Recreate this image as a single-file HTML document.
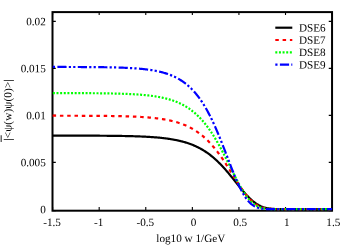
<!DOCTYPE html><html><head><meta charset="utf-8"><title>plot</title><style>html,body{margin:0;padding:0;background:#fff}svg{display:block}text{text-rendering:geometricPrecision;font-family:"Liberation Serif",serif;font-size:11.2px;fill:#000}</style></head><body>
<svg width="350" height="245" viewBox="0 0 350 245">
<rect width="350" height="245" fill="#fff"/>
<path d="M52.60,210.70v-3.6M52.60,12.10v3M99.18,210.70v-3.6M99.18,12.10v3M145.77,210.70v-3.6M145.77,12.10v3M192.35,210.70v-3.6M192.35,12.10v3M238.93,210.70v-3.6M238.93,12.10v3M285.52,210.70v-3.6M285.52,12.10v3M332.10,210.70v-3.6M332.10,12.10v3M52.50,210.70h3.3M332.05,210.70h-3.3M52.50,162.42h3.3M332.05,162.42h-3.3M52.50,115.39h3.3M332.05,115.39h-3.3M52.50,68.36h3.3M332.05,68.36h-3.3M52.50,21.33h3.3M332.05,21.33h-3.3" fill="none" stroke="#000" stroke-width="1.1"/>
<rect x="52.50" y="12.10" width="279.55" height="198.60" fill="none" stroke="#000" stroke-width="2"/>
<path d="M52.60,135.61 L53.30,135.61 L54.00,135.61 L54.70,135.61 L55.40,135.61 L56.09,135.61 L56.79,135.61 L57.49,135.61 L58.19,135.61 L58.89,135.61 L59.59,135.61 L60.29,135.61 L60.99,135.61 L61.68,135.61 L62.38,135.61 L63.08,135.61 L63.78,135.62 L64.48,135.62 L65.18,135.62 L65.88,135.62 L66.57,135.62 L67.27,135.62 L67.97,135.62 L68.67,135.62 L69.37,135.62 L70.07,135.62 L70.77,135.63 L71.47,135.63 L72.16,135.63 L72.86,135.63 L73.56,135.63 L74.26,135.63 L74.96,135.63 L75.66,135.63 L76.36,135.64 L77.06,135.64 L77.76,135.64 L78.45,135.64 L79.15,135.64 L79.85,135.64 L80.55,135.65 L81.25,135.65 L81.95,135.65 L82.65,135.65 L83.35,135.65 L84.04,135.66 L84.74,135.66 L85.44,135.66 L86.14,135.66 L86.84,135.66 L87.54,135.67 L88.24,135.67 L88.94,135.67 L89.63,135.67 L90.33,135.68 L91.03,135.68 L91.73,135.68 L92.43,135.69 L93.13,135.69 L93.83,135.69 L94.53,135.70 L95.22,135.70 L95.92,135.70 L96.62,135.71 L97.32,135.71 L98.02,135.71 L98.72,135.72 L99.42,135.72 L100.12,135.73 L100.81,135.73 L101.51,135.74 L102.21,135.74 L102.91,135.75 L103.61,135.75 L104.31,135.76 L105.01,135.76 L105.70,135.77 L106.40,135.77 L107.10,135.78 L107.80,135.79 L108.50,135.79 L109.20,135.80 L109.90,135.81 L110.60,135.81 L111.30,135.82 L111.99,135.83 L112.69,135.84 L113.39,135.84 L114.09,135.85 L114.79,135.86 L115.49,135.87 L116.19,135.88 L116.88,135.89 L117.58,135.90 L118.28,135.91 L118.98,135.92 L119.68,135.93 L120.38,135.94 L121.08,135.95 L121.78,135.96 L122.47,135.98 L123.17,135.99 L123.87,136.00 L124.57,136.02 L125.27,136.03 L125.97,136.04 L126.67,136.06 L127.37,136.07 L128.06,136.09 L128.76,136.11 L129.46,136.12 L130.16,136.14 L130.86,136.16 L131.56,136.18 L132.26,136.20 L132.96,136.22 L133.66,136.24 L134.35,136.26 L135.05,136.28 L135.75,136.30 L136.45,136.33 L137.15,136.35 L137.85,136.37 L138.55,136.40 L139.25,136.43 L139.94,136.45 L140.64,136.48 L141.34,136.51 L142.04,136.54 L142.74,136.57 L143.44,136.60 L144.14,136.64 L144.84,136.67 L145.53,136.71 L146.23,136.74 L146.93,136.78 L147.63,136.82 L148.33,136.86 L149.03,136.90 L149.73,136.95 L150.43,136.99 L151.12,137.03 L151.82,137.08 L152.52,137.13 L153.22,137.18 L153.92,137.23 L154.62,137.29 L155.32,137.34 L156.02,137.40 L156.71,137.46 L157.41,137.52 L158.11,137.58 L158.81,137.64 L159.51,137.71 L160.21,137.78 L160.91,137.85 L161.60,137.92 L162.30,138.00 L163.00,138.08 L163.70,138.16 L164.40,138.24 L165.10,138.33 L165.80,138.41 L166.50,138.51 L167.19,138.60 L167.89,138.70 L168.59,138.80 L169.29,138.90 L169.99,139.01 L170.69,139.12 L171.39,139.23 L172.09,139.35 L172.78,139.47 L173.48,139.59 L174.18,139.72 L174.88,139.85 L175.58,139.99 L176.28,140.13 L176.98,140.27 L177.68,140.42 L178.38,140.57 L179.07,140.73 L179.77,140.89 L180.47,141.06 L181.17,141.23 L181.87,141.41 L182.57,141.60 L183.27,141.79 L183.96,141.98 L184.66,142.18 L185.36,142.39 L186.06,142.60 L186.76,142.82 L187.46,143.04 L188.16,143.28 L188.86,143.52 L189.55,143.76 L190.25,144.01 L190.95,144.27 L191.65,144.54 L192.35,144.82 L193.05,145.10 L193.75,145.39 L194.45,145.69 L195.15,146.00 L195.84,146.31 L196.54,146.64 L197.24,146.97 L197.94,147.32 L198.64,147.67 L199.34,148.03 L200.04,148.40 L200.74,148.78 L201.43,149.18 L202.13,149.58 L202.83,149.99 L203.53,150.41 L204.23,150.85 L204.93,151.29 L205.63,151.75 L206.32,152.21 L207.02,152.69 L207.72,153.18 L208.42,153.68 L209.12,154.19 L209.82,154.72 L210.52,155.25 L211.22,155.80 L211.91,156.36 L212.61,156.94 L213.31,157.52 L214.01,158.12 L214.71,158.73 L215.41,159.36 L216.11,159.99 L216.81,160.64 L217.50,161.30 L218.20,161.97 L218.90,162.66 L219.60,163.35 L220.30,164.06 L221.00,164.78 L221.70,165.51 L222.40,166.26 L223.09,167.01 L223.79,167.78 L224.49,168.55 L225.19,169.34 L225.89,170.14 L226.59,170.94 L227.29,171.76 L227.99,172.58 L228.69,173.41 L229.38,174.25 L230.08,175.10 L230.78,175.95 L231.48,176.81 L232.18,177.67 L232.88,178.54 L233.58,179.41 L234.28,180.28 L234.97,181.16 L235.67,182.03 L236.37,182.91 L237.07,183.78 L237.77,184.66 L238.47,185.53 L239.17,186.39 L239.86,187.26 L240.56,188.11 L241.26,188.96 L241.96,189.80 L242.66,190.63 L243.36,191.46 L244.06,192.27 L244.76,193.06 L245.45,193.85 L246.15,194.62 L246.85,195.38 L247.55,196.11 L248.25,196.84 L248.95,197.54 L249.65,198.22 L250.35,198.89 L251.04,199.53 L251.74,200.16 L252.44,200.76 L253.14,201.34 L253.84,201.89 L254.54,202.42 L255.24,202.93 L255.94,203.42 L256.63,203.88 L257.33,204.32 L258.03,204.73 L258.73,205.12 L259.43,205.49 L260.13,205.83 L260.83,206.16 L261.53,206.46 L262.23,206.73 L262.92,206.99 L263.62,207.23 L264.32,207.44 L265.02,207.64 L265.72,207.82 L266.42,207.99 L267.12,208.14 L267.81,208.27 L268.51,208.39 L269.21,208.50 L269.91,208.59 L270.61,208.67 L271.31,208.75 L272.01,208.81 L272.71,208.86 L273.41,208.91 L274.10,208.95 L274.80,208.99 L275.50,209.02 L276.20,209.04 L276.90,209.06 L277.60,209.08 L278.30,209.09 L279.00,209.11 L279.69,209.12 L280.39,209.12 L281.09,209.13 L281.79,209.13 L282.49,209.14 L283.19,209.14 L283.89,209.14 L284.59,209.15 L285.28,209.15 L285.98,209.15 L286.68,209.15 L287.38,209.15 L288.08,209.15 L288.78,209.15 L289.48,209.15 L290.18,209.15 L290.87,209.15 L291.57,209.15 L292.27,209.15 L292.97,209.15 L293.67,209.15 L294.37,209.15 L295.07,209.15 L295.76,209.15 L296.46,209.15 L297.16,209.15 L297.86,209.15 L298.56,209.15 L299.26,209.15 L299.96,209.15 L300.66,209.15 L301.36,209.15 L302.05,209.15 L302.75,209.15 L303.45,209.15 L304.15,209.15 L304.85,209.15 L305.55,209.15 L306.25,209.15 L306.94,209.15 L307.64,209.15 L308.34,209.15 L309.04,209.15 L309.74,209.15 L310.44,209.15 L311.14,209.15 L311.84,209.15 L312.54,209.15 L313.23,209.15 L313.93,209.15 L314.63,209.15 L315.33,209.15 L316.03,209.15 L316.73,209.15 L317.43,209.15 L318.13,209.15 L318.82,209.15 L319.52,209.15 L320.22,209.15 L320.92,209.15 L321.62,209.15 L322.32,209.15 L323.02,209.15 L323.72,209.15 L324.41,209.15 L325.11,209.15 L325.81,209.15 L326.51,209.15 L327.21,209.15 L327.91,209.15 L328.61,209.15 L329.31,209.15 L330.00,209.15 L330.70,209.15 L331.40,209.15 L332.10,209.15" fill="none" stroke="#000" stroke-width="2.2"/>
<path d="M52.60,115.72 L53.30,115.72 L54.00,115.72 L54.70,115.72 L55.40,115.72 L56.09,115.72 L56.79,115.72 L57.49,115.73 L58.19,115.73 L58.89,115.73 L59.59,115.73 L60.29,115.73 L60.99,115.73 L61.68,115.73 L62.38,115.73 L63.08,115.73 L63.78,115.73 L64.48,115.73 L65.18,115.74 L65.88,115.74 L66.57,115.74 L67.27,115.74 L67.97,115.74 L68.67,115.74 L69.37,115.74 L70.07,115.75 L70.77,115.75 L71.47,115.75 L72.16,115.75 L72.86,115.75 L73.56,115.75 L74.26,115.76 L74.96,115.76 L75.66,115.76 L76.36,115.76 L77.06,115.76 L77.76,115.77 L78.45,115.77 L79.15,115.77 L79.85,115.77 L80.55,115.77 L81.25,115.78 L81.95,115.78 L82.65,115.78 L83.35,115.78 L84.04,115.79 L84.74,115.79 L85.44,115.79 L86.14,115.80 L86.84,115.80 L87.54,115.80 L88.24,115.81 L88.94,115.81 L89.63,115.81 L90.33,115.82 L91.03,115.82 L91.73,115.83 L92.43,115.83 L93.13,115.83 L93.83,115.84 L94.53,115.84 L95.22,115.85 L95.92,115.85 L96.62,115.86 L97.32,115.86 L98.02,115.87 L98.72,115.87 L99.42,115.88 L100.12,115.89 L100.81,115.89 L101.51,115.90 L102.21,115.90 L102.91,115.91 L103.61,115.92 L104.31,115.93 L105.01,115.93 L105.70,115.94 L106.40,115.95 L107.10,115.96 L107.80,115.97 L108.50,115.97 L109.20,115.98 L109.90,115.99 L110.60,116.00 L111.30,116.01 L111.99,116.02 L112.69,116.03 L113.39,116.05 L114.09,116.06 L114.79,116.07 L115.49,116.08 L116.19,116.09 L116.88,116.11 L117.58,116.12 L118.28,116.13 L118.98,116.15 L119.68,116.16 L120.38,116.18 L121.08,116.20 L121.78,116.21 L122.47,116.23 L123.17,116.25 L123.87,116.26 L124.57,116.28 L125.27,116.30 L125.97,116.32 L126.67,116.34 L127.37,116.36 L128.06,116.39 L128.76,116.41 L129.46,116.43 L130.16,116.46 L130.86,116.48 L131.56,116.51 L132.26,116.54 L132.96,116.56 L133.66,116.59 L134.35,116.62 L135.05,116.65 L135.75,116.68 L136.45,116.72 L137.15,116.75 L137.85,116.78 L138.55,116.82 L139.25,116.86 L139.94,116.90 L140.64,116.94 L141.34,116.98 L142.04,117.02 L142.74,117.06 L143.44,117.11 L144.14,117.15 L144.84,117.20 L145.53,117.25 L146.23,117.30 L146.93,117.36 L147.63,117.41 L148.33,117.47 L149.03,117.53 L149.73,117.59 L150.43,117.65 L151.12,117.71 L151.82,117.78 L152.52,117.85 L153.22,117.92 L153.92,117.99 L154.62,118.07 L155.32,118.14 L156.02,118.22 L156.71,118.31 L157.41,118.39 L158.11,118.48 L158.81,118.57 L159.51,118.67 L160.21,118.76 L160.91,118.86 L161.60,118.97 L162.30,119.07 L163.00,119.18 L163.70,119.30 L164.40,119.42 L165.10,119.54 L165.80,119.66 L166.50,119.79 L167.19,119.92 L167.89,120.06 L168.59,120.20 L169.29,120.35 L169.99,120.50 L170.69,120.66 L171.39,120.82 L172.09,120.98 L172.78,121.15 L173.48,121.33 L174.18,121.51 L174.88,121.70 L175.58,121.89 L176.28,122.09 L176.98,122.30 L177.68,122.51 L178.38,122.73 L179.07,122.95 L179.77,123.18 L180.47,123.42 L181.17,123.67 L181.87,123.92 L182.57,124.18 L183.27,124.45 L183.96,124.73 L184.66,125.01 L185.36,125.31 L186.06,125.61 L186.76,125.92 L187.46,126.24 L188.16,126.57 L188.86,126.91 L189.55,127.26 L190.25,127.62 L190.95,127.99 L191.65,128.37 L192.35,128.76 L193.05,129.17 L193.75,129.58 L194.45,130.01 L195.15,130.44 L195.84,130.89 L196.54,131.35 L197.24,131.83 L197.94,132.31 L198.64,132.81 L199.34,133.33 L200.04,133.85 L200.74,134.39 L201.43,134.95 L202.13,135.51 L202.83,136.10 L203.53,136.69 L204.23,137.31 L204.93,137.93 L205.63,138.57 L206.32,139.23 L207.02,139.90 L207.72,140.59 L208.42,141.30 L209.12,142.02 L209.82,142.75 L210.52,143.50 L211.22,144.27 L211.91,145.06 L212.61,145.86 L213.31,146.67 L214.01,147.51 L214.71,148.36 L215.41,149.22 L216.11,150.10 L216.81,151.00 L217.50,151.91 L218.20,152.84 L218.90,153.78 L219.60,154.74 L220.30,155.71 L221.00,156.70 L221.70,157.70 L222.40,158.71 L223.09,159.73 L223.79,160.77 L224.49,161.82 L225.19,162.88 L225.89,163.96 L226.59,165.04 L227.29,166.13 L227.99,167.22 L228.69,168.33 L229.38,169.44 L230.08,170.56 L230.78,171.68 L231.48,172.80 L232.18,173.93 L232.88,175.06 L233.58,176.18 L234.28,177.31 L234.97,178.43 L235.67,179.55 L236.37,180.66 L237.07,181.77 L237.77,182.86 L238.47,183.95 L239.17,185.03 L239.86,186.09 L240.56,187.14 L241.26,188.18 L241.96,189.20 L242.66,190.20 L243.36,191.18 L244.06,192.14 L244.76,193.08 L245.45,194.00 L246.15,194.89 L246.85,195.75 L247.55,196.59 L248.25,197.41 L248.95,198.19 L249.65,198.95 L250.35,199.67 L251.04,200.37 L251.74,201.03 L252.44,201.67 L253.14,202.27 L253.84,202.84 L254.54,203.39 L255.24,203.90 L255.94,204.38 L256.63,204.83 L257.33,205.25 L258.03,205.64 L258.73,206.00 L259.43,206.34 L260.13,206.65 L260.83,206.93 L261.53,207.19 L262.23,207.43 L262.92,207.65 L263.62,207.84 L264.32,208.01 L265.02,208.17 L265.72,208.31 L266.42,208.43 L267.12,208.54 L267.81,208.63 L268.51,208.71 L269.21,208.79 L269.91,208.85 L270.61,208.90 L271.31,208.94 L272.01,208.98 L272.71,209.01 L273.41,209.04 L274.10,209.06 L274.80,209.08 L275.50,209.10 L276.20,209.11 L276.90,209.12 L277.60,209.12 L278.30,209.13 L279.00,209.14 L279.69,209.14 L280.39,209.14 L281.09,209.14 L281.79,209.15 L282.49,209.15 L283.19,209.15 L283.89,209.15 L284.59,209.15 L285.28,209.15 L285.98,209.15 L286.68,209.15 L287.38,209.15 L288.08,209.15 L288.78,209.15 L289.48,209.15 L290.18,209.15 L290.87,209.15 L291.57,209.15 L292.27,209.15 L292.97,209.15 L293.67,209.15 L294.37,209.15 L295.07,209.15 L295.76,209.15 L296.46,209.15 L297.16,209.15 L297.86,209.15 L298.56,209.15 L299.26,209.15 L299.96,209.15 L300.66,209.15 L301.36,209.15 L302.05,209.15 L302.75,209.15 L303.45,209.15 L304.15,209.15 L304.85,209.15 L305.55,209.15 L306.25,209.15 L306.94,209.15 L307.64,209.15 L308.34,209.15 L309.04,209.15 L309.74,209.15 L310.44,209.15 L311.14,209.15 L311.84,209.15 L312.54,209.15 L313.23,209.15 L313.93,209.15 L314.63,209.15 L315.33,209.15 L316.03,209.15 L316.73,209.15 L317.43,209.15 L318.13,209.15 L318.82,209.15 L319.52,209.15 L320.22,209.15 L320.92,209.15 L321.62,209.15 L322.32,209.15 L323.02,209.15 L323.72,209.15 L324.41,209.15 L325.11,209.15 L325.81,209.15 L326.51,209.15 L327.21,209.15 L327.91,209.15 L328.61,209.15 L329.31,209.15 L330.00,209.15 L330.70,209.15 L331.40,209.15 L332.10,209.15" fill="none" stroke="#f00" stroke-width="2.2" stroke-dasharray="3.5 3.8" stroke-dashoffset="0"/>
<path d="M52.60,93.08 L53.30,93.08 L54.00,93.08 L54.70,93.08 L55.40,93.08 L56.09,93.08 L56.79,93.08 L57.49,93.08 L58.19,93.08 L58.89,93.08 L59.59,93.09 L60.29,93.09 L60.99,93.09 L61.68,93.09 L62.38,93.09 L63.08,93.09 L63.78,93.09 L64.48,93.10 L65.18,93.10 L65.88,93.10 L66.57,93.10 L67.27,93.10 L67.97,93.10 L68.67,93.11 L69.37,93.11 L70.07,93.11 L70.77,93.11 L71.47,93.11 L72.16,93.12 L72.86,93.12 L73.56,93.12 L74.26,93.12 L74.96,93.12 L75.66,93.13 L76.36,93.13 L77.06,93.13 L77.76,93.14 L78.45,93.14 L79.15,93.14 L79.85,93.14 L80.55,93.15 L81.25,93.15 L81.95,93.15 L82.65,93.16 L83.35,93.16 L84.04,93.16 L84.74,93.17 L85.44,93.17 L86.14,93.18 L86.84,93.18 L87.54,93.19 L88.24,93.19 L88.94,93.19 L89.63,93.20 L90.33,93.20 L91.03,93.21 L91.73,93.22 L92.43,93.22 L93.13,93.23 L93.83,93.23 L94.53,93.24 L95.22,93.25 L95.92,93.25 L96.62,93.26 L97.32,93.27 L98.02,93.27 L98.72,93.28 L99.42,93.29 L100.12,93.30 L100.81,93.30 L101.51,93.31 L102.21,93.32 L102.91,93.33 L103.61,93.34 L104.31,93.35 L105.01,93.36 L105.70,93.37 L106.40,93.38 L107.10,93.39 L107.80,93.40 L108.50,93.42 L109.20,93.43 L109.90,93.44 L110.60,93.45 L111.30,93.47 L111.99,93.48 L112.69,93.50 L113.39,93.51 L114.09,93.53 L114.79,93.54 L115.49,93.56 L116.19,93.58 L116.88,93.59 L117.58,93.61 L118.28,93.63 L118.98,93.65 L119.68,93.67 L120.38,93.69 L121.08,93.71 L121.78,93.74 L122.47,93.76 L123.17,93.78 L123.87,93.81 L124.57,93.83 L125.27,93.86 L125.97,93.89 L126.67,93.91 L127.37,93.94 L128.06,93.97 L128.76,94.00 L129.46,94.04 L130.16,94.07 L130.86,94.10 L131.56,94.14 L132.26,94.17 L132.96,94.21 L133.66,94.25 L134.35,94.29 L135.05,94.33 L135.75,94.38 L136.45,94.42 L137.15,94.47 L137.85,94.51 L138.55,94.56 L139.25,94.61 L139.94,94.67 L140.64,94.72 L141.34,94.78 L142.04,94.83 L142.74,94.89 L143.44,94.95 L144.14,95.02 L144.84,95.08 L145.53,95.15 L146.23,95.22 L146.93,95.29 L147.63,95.37 L148.33,95.45 L149.03,95.53 L149.73,95.61 L150.43,95.69 L151.12,95.78 L151.82,95.87 L152.52,95.97 L153.22,96.06 L153.92,96.16 L154.62,96.27 L155.32,96.37 L156.02,96.48 L156.71,96.60 L157.41,96.71 L158.11,96.84 L158.81,96.96 L159.51,97.09 L160.21,97.22 L160.91,97.36 L161.60,97.50 L162.30,97.65 L163.00,97.80 L163.70,97.96 L164.40,98.12 L165.10,98.29 L165.80,98.46 L166.50,98.64 L167.19,98.82 L167.89,99.01 L168.59,99.21 L169.29,99.41 L169.99,99.62 L170.69,99.83 L171.39,100.05 L172.09,100.28 L172.78,100.52 L173.48,100.76 L174.18,101.01 L174.88,101.27 L175.58,101.53 L176.28,101.81 L176.98,102.09 L177.68,102.38 L178.38,102.68 L179.07,103.00 L179.77,103.31 L180.47,103.64 L181.17,103.98 L181.87,104.33 L182.57,104.69 L183.27,105.06 L183.96,105.45 L184.66,105.84 L185.36,106.25 L186.06,106.66 L186.76,107.09 L187.46,107.53 L188.16,107.99 L188.86,108.46 L189.55,108.94 L190.25,109.43 L190.95,109.94 L191.65,110.47 L192.35,111.01 L193.05,111.56 L193.75,112.13 L194.45,112.71 L195.15,113.32 L195.84,113.93 L196.54,114.57 L197.24,115.22 L197.94,115.88 L198.64,116.57 L199.34,117.27 L200.04,117.99 L200.74,118.73 L201.43,119.49 L202.13,120.27 L202.83,121.06 L203.53,121.88 L204.23,122.71 L204.93,123.57 L205.63,124.44 L206.32,125.34 L207.02,126.25 L207.72,127.19 L208.42,128.14 L209.12,129.12 L209.82,130.12 L210.52,131.13 L211.22,132.17 L211.91,133.23 L212.61,134.31 L213.31,135.41 L214.01,136.52 L214.71,137.66 L215.41,138.82 L216.11,140.00 L216.81,141.19 L217.50,142.41 L218.20,143.64 L218.90,144.89 L219.60,146.16 L220.30,147.44 L221.00,148.74 L221.70,150.06 L222.40,151.38 L223.09,152.73 L223.79,154.08 L224.49,155.45 L225.19,156.82 L225.89,158.21 L226.59,159.60 L227.29,161.00 L227.99,162.41 L228.69,163.82 L229.38,165.23 L230.08,166.65 L230.78,168.06 L231.48,169.47 L232.18,170.88 L232.88,172.29 L233.58,173.68 L234.28,175.07 L234.97,176.45 L235.67,177.82 L236.37,179.17 L237.07,180.51 L237.77,181.82 L238.47,183.12 L239.17,184.40 L239.86,185.66 L240.56,186.89 L241.26,188.09 L241.96,189.27 L242.66,190.42 L243.36,191.53 L244.06,192.62 L244.76,193.67 L245.45,194.68 L246.15,195.66 L246.85,196.60 L247.55,197.51 L248.25,198.38 L248.95,199.21 L249.65,200.00 L250.35,200.75 L251.04,201.46 L251.74,202.13 L252.44,202.76 L253.14,203.36 L253.84,203.91 L254.54,204.43 L255.24,204.91 L255.94,205.36 L256.63,205.77 L257.33,206.15 L258.03,206.50 L258.73,206.82 L259.43,207.10 L260.13,207.36 L260.83,207.60 L261.53,207.81 L262.23,208.00 L262.92,208.16 L263.62,208.31 L264.32,208.44 L265.02,208.55 L265.72,208.65 L266.42,208.73 L267.12,208.80 L267.81,208.87 L268.51,208.92 L269.21,208.96 L269.91,209.00 L270.61,209.03 L271.31,209.05 L272.01,209.07 L272.71,209.09 L273.41,209.10 L274.10,209.11 L274.80,209.12 L275.50,209.13 L276.20,209.13 L276.90,209.14 L277.60,209.14 L278.30,209.14 L279.00,209.15 L279.69,209.15 L280.39,209.15 L281.09,209.15 L281.79,209.15 L282.49,209.15 L283.19,209.15 L283.89,209.15 L284.59,209.15 L285.28,209.15 L285.98,209.15 L286.68,209.15 L287.38,209.15 L288.08,209.15 L288.78,209.15 L289.48,209.15 L290.18,209.15 L290.87,209.15 L291.57,209.15 L292.27,209.15 L292.97,209.15 L293.67,209.15 L294.37,209.15 L295.07,209.15 L295.76,209.15 L296.46,209.15 L297.16,209.15 L297.86,209.15 L298.56,209.15 L299.26,209.15 L299.96,209.15 L300.66,209.15 L301.36,209.15 L302.05,209.15 L302.75,209.15 L303.45,209.15 L304.15,209.15 L304.85,209.15 L305.55,209.15 L306.25,209.15 L306.94,209.15 L307.64,209.15 L308.34,209.15 L309.04,209.15 L309.74,209.15 L310.44,209.15 L311.14,209.15 L311.84,209.15 L312.54,209.15 L313.23,209.15 L313.93,209.15 L314.63,209.15 L315.33,209.15 L316.03,209.15 L316.73,209.15 L317.43,209.15 L318.13,209.15 L318.82,209.15 L319.52,209.15 L320.22,209.15 L320.92,209.15 L321.62,209.15 L322.32,209.15 L323.02,209.15 L323.72,209.15 L324.41,209.15 L325.11,209.15 L325.81,209.15 L326.51,209.15 L327.21,209.15 L327.91,209.15 L328.61,209.15 L329.31,209.15 L330.00,209.15 L330.70,209.15 L331.40,209.15 L332.10,209.15" fill="none" stroke="#0f0" stroke-width="2.2" stroke-dasharray="2 1.636" stroke-dashoffset="3.376"/>
<path d="M52.60,66.95 L53.30,66.95 L54.00,66.95 L54.70,66.96 L55.40,66.96 L56.09,66.96 L56.79,66.96 L57.49,66.96 L58.19,66.96 L58.89,66.96 L59.59,66.96 L60.29,66.96 L60.99,66.96 L61.68,66.97 L62.38,66.97 L63.08,66.97 L63.78,66.97 L64.48,66.97 L65.18,66.97 L65.88,66.97 L66.57,66.98 L67.27,66.98 L67.97,66.98 L68.67,66.98 L69.37,66.98 L70.07,66.99 L70.77,66.99 L71.47,66.99 L72.16,66.99 L72.86,66.99 L73.56,67.00 L74.26,67.00 L74.96,67.00 L75.66,67.00 L76.36,67.01 L77.06,67.01 L77.76,67.01 L78.45,67.01 L79.15,67.02 L79.85,67.02 L80.55,67.02 L81.25,67.03 L81.95,67.03 L82.65,67.03 L83.35,67.04 L84.04,67.04 L84.74,67.04 L85.44,67.05 L86.14,67.05 L86.84,67.06 L87.54,67.06 L88.24,67.07 L88.94,67.07 L89.63,67.08 L90.33,67.08 L91.03,67.09 L91.73,67.09 L92.43,67.10 L93.13,67.10 L93.83,67.11 L94.53,67.12 L95.22,67.12 L95.92,67.13 L96.62,67.14 L97.32,67.14 L98.02,67.15 L98.72,67.16 L99.42,67.17 L100.12,67.18 L100.81,67.19 L101.51,67.19 L102.21,67.20 L102.91,67.21 L103.61,67.22 L104.31,67.23 L105.01,67.25 L105.70,67.26 L106.40,67.27 L107.10,67.28 L107.80,67.29 L108.50,67.31 L109.20,67.32 L109.90,67.33 L110.60,67.35 L111.30,67.36 L111.99,67.38 L112.69,67.39 L113.39,67.41 L114.09,67.43 L114.79,67.44 L115.49,67.46 L116.19,67.48 L116.88,67.50 L117.58,67.52 L118.28,67.54 L118.98,67.56 L119.68,67.59 L120.38,67.61 L121.08,67.63 L121.78,67.66 L122.47,67.68 L123.17,67.71 L123.87,67.74 L124.57,67.77 L125.27,67.80 L125.97,67.83 L126.67,67.86 L127.37,67.89 L128.06,67.93 L128.76,67.96 L129.46,68.00 L130.16,68.04 L130.86,68.07 L131.56,68.12 L132.26,68.16 L132.96,68.20 L133.66,68.25 L134.35,68.29 L135.05,68.34 L135.75,68.39 L136.45,68.44 L137.15,68.50 L137.85,68.55 L138.55,68.61 L139.25,68.67 L139.94,68.73 L140.64,68.79 L141.34,68.86 L142.04,68.93 L142.74,69.00 L143.44,69.07 L144.14,69.14 L144.84,69.22 L145.53,69.30 L146.23,69.39 L146.93,69.47 L147.63,69.56 L148.33,69.66 L149.03,69.75 L149.73,69.85 L150.43,69.95 L151.12,70.06 L151.82,70.17 L152.52,70.28 L153.22,70.40 L153.92,70.52 L154.62,70.65 L155.32,70.78 L156.02,70.91 L156.71,71.05 L157.41,71.20 L158.11,71.35 L158.81,71.50 L159.51,71.66 L160.21,71.83 L160.91,72.00 L161.60,72.17 L162.30,72.36 L163.00,72.55 L163.70,72.74 L164.40,72.94 L165.10,73.15 L165.80,73.37 L166.50,73.59 L167.19,73.82 L167.89,74.06 L168.59,74.31 L169.29,74.57 L169.99,74.83 L170.69,75.10 L171.39,75.38 L172.09,75.67 L172.78,75.97 L173.48,76.29 L174.18,76.61 L174.88,76.94 L175.58,77.28 L176.28,77.63 L176.98,78.00 L177.68,78.38 L178.38,78.77 L179.07,79.17 L179.77,79.58 L180.47,80.01 L181.17,80.45 L181.87,80.91 L182.57,81.38 L183.27,81.87 L183.96,82.37 L184.66,82.89 L185.36,83.42 L186.06,83.97 L186.76,84.53 L187.46,85.12 L188.16,85.72 L188.86,86.34 L189.55,86.98 L190.25,87.64 L190.95,88.32 L191.65,89.01 L192.35,89.73 L193.05,90.47 L193.75,91.23 L194.45,92.02 L195.15,92.82 L195.84,93.65 L196.54,94.50 L197.24,95.37 L197.94,96.27 L198.64,97.20 L199.34,98.15 L200.04,99.12 L200.74,100.12 L201.43,101.14 L202.13,102.19 L202.83,103.27 L203.53,104.38 L204.23,105.51 L204.93,106.67 L205.63,107.86 L206.32,109.07 L207.02,110.31 L207.72,111.58 L208.42,112.88 L209.12,114.21 L209.82,115.56 L210.52,116.94 L211.22,118.35 L211.91,119.79 L212.61,121.25 L213.31,122.74 L214.01,124.26 L214.71,125.80 L215.41,127.37 L216.11,128.97 L216.81,130.58 L217.50,132.22 L218.20,133.89 L218.90,135.57 L219.60,137.27 L220.30,138.99 L221.00,140.74 L221.70,142.49 L222.40,144.26 L223.09,146.05 L223.79,147.85 L224.49,149.65 L225.19,151.47 L225.89,153.29 L226.59,155.11 L227.29,156.94 L227.99,158.77 L228.69,160.59 L229.38,162.41 L230.08,164.23 L230.78,166.03 L231.48,167.82 L232.18,169.60 L232.88,171.35 L233.58,173.09 L234.28,174.81 L234.97,176.50 L235.67,178.17 L236.37,179.80 L237.07,181.40 L237.77,182.97 L238.47,184.50 L239.17,185.98 L239.86,187.43 L240.56,188.84 L241.26,190.19 L241.96,191.50 L242.66,192.77 L243.36,193.98 L244.06,195.14 L244.76,196.25 L245.45,197.30 L246.15,198.30 L246.85,199.25 L247.55,200.15 L248.25,200.99 L248.95,201.78 L249.65,202.51 L250.35,203.20 L251.04,203.83 L251.74,204.42 L252.44,204.96 L253.14,205.45 L253.84,205.90 L254.54,206.31 L255.24,206.68 L255.94,207.01 L256.63,207.31 L257.33,207.57 L258.03,207.80 L258.73,208.01 L259.43,208.19 L260.13,208.35 L260.83,208.48 L261.53,208.60 L262.23,208.70 L262.92,208.78 L263.62,208.85 L264.32,208.91 L265.02,208.96 L265.72,209.00 L266.42,209.03 L267.12,209.06 L267.81,209.08 L268.51,209.10 L269.21,209.11 L269.91,209.12 L270.61,209.13 L271.31,209.13 L272.01,209.14 L272.71,209.14 L273.41,209.14 L274.10,209.15 L274.80,209.15 L275.50,209.15 L276.20,209.15 L276.90,209.15 L277.60,209.15 L278.30,209.15 L279.00,209.15 L279.69,209.15 L280.39,209.15 L281.09,209.15 L281.79,209.15 L282.49,209.15 L283.19,209.15 L283.89,209.15 L284.59,209.15 L285.28,209.15 L285.98,209.15 L286.68,209.15 L287.38,209.15 L288.08,209.15 L288.78,209.15 L289.48,209.15 L290.18,209.15 L290.87,209.15 L291.57,209.15 L292.27,209.15 L292.97,209.15 L293.67,209.15 L294.37,209.15 L295.07,209.15 L295.76,209.15 L296.46,209.15 L297.16,209.15 L297.86,209.15 L298.56,209.15 L299.26,209.15 L299.96,209.15 L300.66,209.15 L301.36,209.15 L302.05,209.15 L302.75,209.15 L303.45,209.15 L304.15,209.15 L304.85,209.15 L305.55,209.15 L306.25,209.15 L306.94,209.15 L307.64,209.15 L308.34,209.15 L309.04,209.15 L309.74,209.15 L310.44,209.15 L311.14,209.15 L311.84,209.15 L312.54,209.15 L313.23,209.15 L313.93,209.15 L314.63,209.15 L315.33,209.15 L316.03,209.15 L316.73,209.15 L317.43,209.15 L318.13,209.15 L318.82,209.15 L319.52,209.15 L320.22,209.15 L320.92,209.15 L321.62,209.15 L322.32,209.15 L323.02,209.15 L323.72,209.15 L324.41,209.15 L325.11,209.15 L325.81,209.15 L326.51,209.15 L327.21,209.15 L327.91,209.15 L328.61,209.15 L329.31,209.15 L330.00,209.15 L330.70,209.15 L331.40,209.15 L332.10,209.15" fill="none" stroke="#00f" stroke-width="2.2" stroke-dasharray="9.2 2.2 2.2 2.2 2.2 2.4" stroke-dashoffset="15.6"/>
<text transform="translate(52.10,226.00) rotate(0.03) scale(1,1.0)" text-anchor="middle">-1.5</text>
<text transform="translate(98.68,226.00) rotate(0.03) scale(1,1.0)" text-anchor="middle">-1</text>
<text transform="translate(145.27,226.00) rotate(0.03) scale(1,1.0)" text-anchor="middle">-0.5</text>
<text transform="translate(193.55,226.00) rotate(0.03) scale(1,1.0)" text-anchor="middle">0</text>
<text transform="translate(240.13,226.00) rotate(0.03) scale(1,1.0)" text-anchor="middle">0.5</text>
<text transform="translate(286.72,226.00) rotate(0.03) scale(1,1.0)" text-anchor="middle">1</text>
<text transform="translate(333.30,226.00) rotate(0.03) scale(1,1.0)" text-anchor="middle">1.5</text>
<text transform="translate(45.80,213.30) rotate(0.03) scale(1,1.0)" text-anchor="end">0</text>
<text transform="translate(45.80,166.27) rotate(0.03) scale(1,1.0)" text-anchor="end">0.005</text>
<text transform="translate(45.80,119.24) rotate(0.03) scale(1,1.0)" text-anchor="end">0.01</text>
<text transform="translate(45.80,72.21) rotate(0.03) scale(1,1.0)" text-anchor="end">0.015</text>
<text transform="translate(45.80,25.18) rotate(0.03) scale(1,1.0)" text-anchor="end">0.02</text>
<text transform="translate(190.80,242.10) rotate(0.03) scale(1,1.0)" text-anchor="middle">log10 w 1/GeV</text>
<text transform="translate(11.5,110)  rotate(-90.03)" text-anchor="middle" textLength="61.2" lengthAdjust="spacing">|&lt;ψ(w)ψ(0)&gt;|</text>
<path d="M1.2,135.2V141.9" stroke="#444" stroke-width="1.2"/>
<path d="M275.3,27.70H292.3" fill="none" stroke="#000" stroke-width="2.2"/>
<text transform="translate(298.90,31.50) rotate(0.03) scale(1,1.0)" text-anchor="start">DSE6</text>
<path d="M275.3,40.00H292.3" fill="none" stroke="#f00" stroke-width="2.2" stroke-dasharray="3.5 3.8" stroke-dashoffset="0"/>
<text transform="translate(298.90,43.80) rotate(0.03) scale(1,1.0)" text-anchor="start">DSE7</text>
<path d="M275.3,52.30H292.3" fill="none" stroke="#0f0" stroke-width="2.2" stroke-dasharray="2 1.636" stroke-dashoffset="0"/>
<text transform="translate(298.90,56.10) rotate(0.03) scale(1,1.0)" text-anchor="start">DSE8</text>
<path d="M275.3,64.60H292.3" fill="none" stroke="#00f" stroke-width="2.2" stroke-dasharray="9.2 2.2 2.2 2.2 2.2 2.4" stroke-dashoffset="15.8"/>
<text transform="translate(298.90,68.40) rotate(0.03) scale(1,1.0)" text-anchor="start">DSE9</text>
</svg></body></html>
